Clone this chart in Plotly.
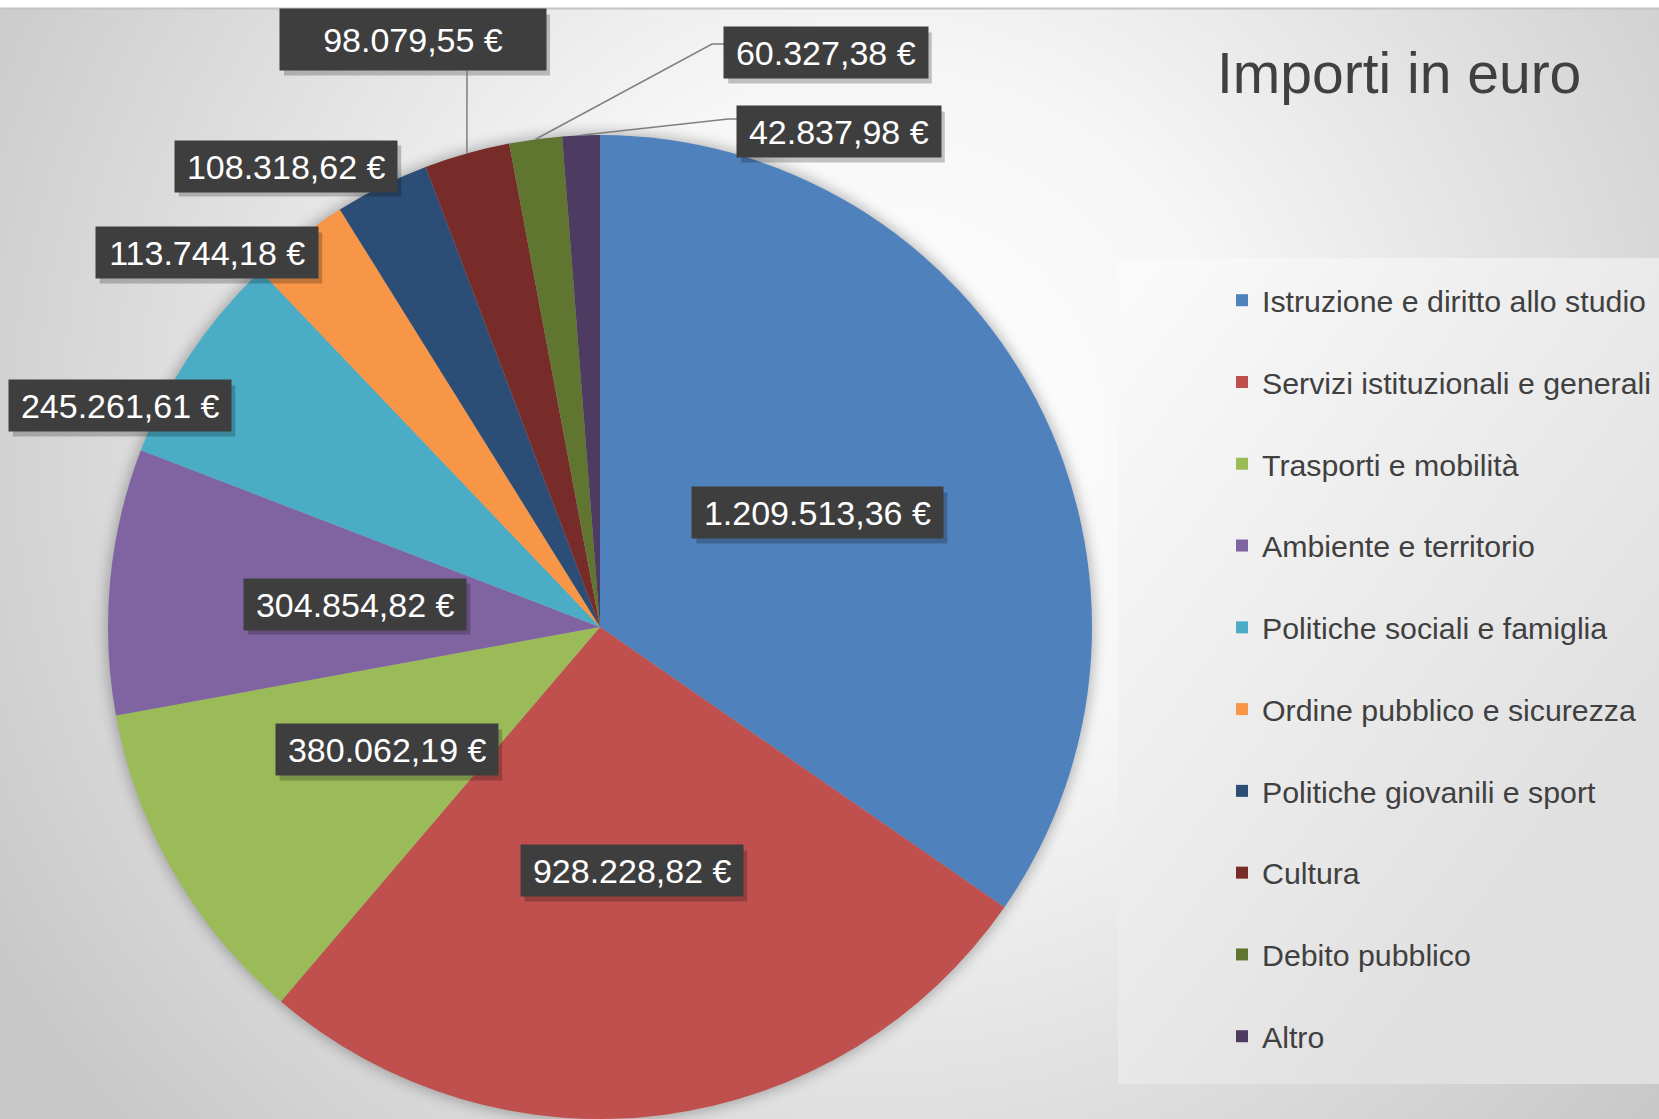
import math
import base64
import plotly.graph_objects as go

# ---------------- data ----------------
categories = [
    "Istruzione e diritto allo studio",
    "Servizi istituzionali e generali",
    "Trasporti e mobilità",
    "Ambiente e territorio",
    "Politiche sociali e famiglia",
    "Ordine pubblico e sicurezza",
    "Politiche giovanili e sport",
    "Cultura",
    "Debito pubblico",
    "Altro",
]
values = [1209513.36, 928228.82, 380062.19, 304854.82, 245261.61,
          113744.18, 108318.62, 98079.55, 60327.38, 42837.98]
colors = ["#4F81BD", "#C0504D", "#9BBB59", "#8064A2", "#4BACC6",
          "#F79646", "#2C4D75", "#772C2A", "#5F7530", "#4D3B62"]
title_text = "Importi in euro"

# ---------------- layout constants ----------------
W, H = 1659, 1119
CX, CY, R = 600, 627, 492          # pie centre / radius in pixels (top-left origin)
FONT = "Liberation Sans, Arial, sans-serif"
LABEL_FS = 34

# callout positions (pixel centres) for labels placed outside the pie
outside_pos = {4: (120, 406), 5: (207, 253), 6: (286, 166),
               7: (413, 40), 8: (826, 53), 9: (839, 132)}
box_override = {7: (266, 61)}
# leader line end points (from slice edge to callout)
leader_pts = {7: [(467, 70)], 8: [(712, 44), (725, 44)], 9: [(728, 119), (738, 119)]}


def px(x, y):
    return x / W, 1 - y / H


def fmt_eur(v):
    s = f"{v:,.2f}".replace(",", "X").replace(".", ",").replace("X", ".")
    return s + " €"


CW = {".": 0.278, ",": 0.278, " ": 0.278, "€": 0.556}


def text_w(s, fs):
    return sum(CW.get(c, 0.556) for c in s) * fs


total = sum(values)
mid_angles = []
acc = 0.0
for v in values:
    mid_angles.append((acc + v / 2) / total * 2 * math.pi)
    acc += v


def polar(theta, r):
    return CX + r * math.sin(theta), CY - r * math.cos(theta)


# ---------------- background (svg) ----------------
svg = f'''<svg xmlns="http://www.w3.org/2000/svg" width="{W}" height="{H}" viewBox="0 0 {W} {H}">
<defs>
<radialGradient id="bg" gradientUnits="userSpaceOnUse" cx="880" cy="430" r="1040">
<stop offset="0" stop-color="#ffffff"/>
<stop offset="0.35" stop-color="#f6f6f6"/>
<stop offset="1" stop-color="#c7c7c7"/>
</radialGradient>
<linearGradient id="lg" gradientUnits="userSpaceOnUse" x1="1118" y1="300" x2="1659" y2="700">
<stop offset="0" stop-color="#fafafa"/>
<stop offset="1" stop-color="#e0e0e0"/>
</linearGradient>
<filter id="blur" x="-20%" y="-20%" width="140%" height="140%"><feGaussianBlur stdDeviation="7"/></filter>
</defs>
<rect x="0" y="0" width="{W}" height="{H}" fill="#ffffff"/>
<rect x="0" y="9" width="{W}" height="{H - 9}" fill="url(#bg)"/>
<line x1="0" y1="8.5" x2="{W}" y2="8.5" stroke="#c4c4c4" stroke-width="2"/>
<rect x="1118" y="258" width="{W - 1118}" height="826" fill="url(#lg)"/>
<circle cx="{CX}" cy="{CY}" r="{R + 2}" fill="#000000" opacity="0.28" filter="url(#blur)"/>
</svg>'''
bg_uri = "data:image/svg+xml;base64," + base64.b64encode(svg.encode("utf-8")).decode()

# ---------------- figure ----------------
x0, y1 = px(CX - R, CY - R)
x1, y0 = px(CX + R, CY + R)

fig = go.Figure(go.Pie(
    labels=[c + "<br>\u00a0" for c in categories],
    values=values,
    marker=dict(colors=colors, line=dict(width=0)),
    sort=False,
    direction="clockwise",
    rotation=0,
    textinfo="none",
    hovertemplate="%{label}: %{value:,.2f} €<extra></extra>",
    domain=dict(x=[x0, x1], y=[max(0, y0), y1]),
))

annotations = []
shapes = []
for i, v in enumerate(values):
    txt = fmt_eur(v)
    if i in outside_pos:
        cx, cy = outside_pos[i]
    else:
        cx, cy = polar(mid_angles[i], R * 0.5)
    bw, bh = box_override.get(i, (text_w(txt, LABEL_FS) + 24, 51))
    # drop shadow of the callout box
    sx0, sy0 = px(cx - bw / 2 + 4, cy - bh / 2 + 5)
    sx1, sy1 = px(cx + bw / 2 + 4, cy + bh / 2 + 5)
    shapes.append(dict(type="rect", xref="paper", yref="paper", layer="above",
                       x0=sx0, x1=sx1, y0=sy1, y1=sy0,
                       fillcolor="rgba(0,0,0,0.22)", line=dict(width=0)))
    ax, ay = px(cx, cy)
    annotations.append(dict(
        x=ax, y=ay, xref="paper", yref="paper", text=txt, showarrow=False,
        xanchor="center", yanchor="middle", width=bw, height=bh, borderpad=0,
        bgcolor="#3e3e3e", font=dict(family=FONT, size=LABEL_FS, color="#ffffff")))
    if i in leader_pts:
        pts = [polar(mid_angles[i], R)] + leader_pts[i]
        path = "M " + " L ".join(f"{px(x, y)[0]},{px(x, y)[1]}" for x, y in pts)
        shapes.append(dict(type="path", xref="paper", yref="paper", path=path,
                           line=dict(color="#7f7f7f", width=1.5)))

tx, ty = px(1399, 39)
annotations.append(dict(
    x=tx, y=ty, xref="paper", yref="paper", text=title_text, showarrow=False,
    xanchor="center", yanchor="top",
    font=dict(family=FONT, size=57, color="#404040")))

lx, ly = px(1222, 274)
fig.update_layout(
    width=W, height=H,
    margin=dict(l=0, r=0, t=0, b=0),
    paper_bgcolor="#ffffff",
    plot_bgcolor="rgba(0,0,0,0)",
    showlegend=True,
    legend=dict(x=lx, y=ly, xanchor="left", yanchor="top",
                font=dict(family=FONT, size=30.3, color="#404040"),
                bgcolor="rgba(0,0,0,0)", valign="top", traceorder="normal"),
    images=[dict(source=bg_uri, xref="paper", yref="paper", x=0, y=1,
                 sizex=1, sizey=1, xanchor="left", yanchor="top",
                 sizing="stretch", layer="below")],
    annotations=annotations,
    shapes=shapes,
)

fig.write_html(
    "out.html", config={"displayModeBar": False},
    post_script=("document.documentElement.style.overflow='hidden';"
                 "document.body.style.margin='0';"
                 "document.body.style.overflow='hidden';"))
